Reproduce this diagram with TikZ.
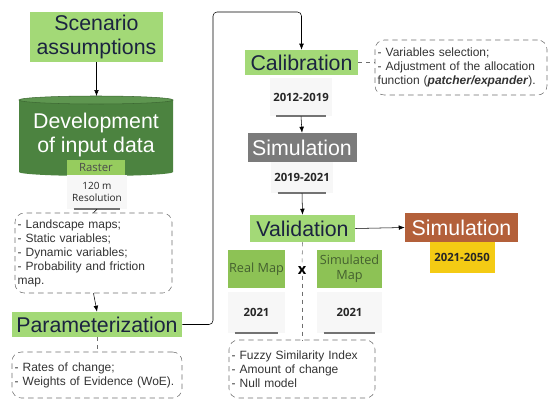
\documentclass[tikz,border=0pt]{standalone}
\usepackage{fontspec}
\setmainfont{Liberation Sans}
\newfontfamily\smallfont{Open Sans}
\usetikzlibrary{arrows.meta}

\definecolor{lightgreen}{HTML}{A3D977}
\definecolor{mapgreen}{HTML}{8DC255}
\definecolor{maptext}{HTML}{44602F}
\definecolor{rastergreen}{HTML}{96CC5E}
\definecolor{darkgreen}{HTML}{4C8340}
\definecolor{topgreen}{HTML}{5E9650}
\definecolor{navy}{HTML}{1B2340}
\definecolor{simgray}{HTML}{7B7B7B}
\definecolor{rust}{HTML}{B3603A}
\definecolor{gold}{HTML}{F4CB14}
\definecolor{notegray}{HTML}{6E6E6E}

\tikzset{
  stage/.style={font=\fontsize{16}{18}\selectfont, inner sep=1pt, align=center},
  greenstage/.style={stage, fill=lightgreen, text=navy},
  notebox/.style={draw=notegray, dash pattern=on 4pt off 3pt, rounded corners=7pt, align=left,
    font=\fontsize{9}{10.5}\selectfont, text=black!80, inner xsep=2pt, inner ysep=3pt},
  datebox/.style={fill=gray!6, inner sep=0pt, align=center, text=black!85,
    font=\smallfont\bfseries\fontsize{8.5}{10}\selectfont,
    path picture={\draw[black!55, line width=1.6pt]
      ([xshift=5pt]path picture bounding box.south west) --
      ([xshift=-5pt]path picture bounding box.south east);}},
  mapbox/.style={fill=mapgreen, inner sep=0pt, align=center, text=maptext,
    font=\smallfont\fontsize{9.5}{11.5}\selectfont},
  arr/.style={-{Latex[length=4.5pt,width=3.5pt]}, thin},
  link/.style={dash pattern=on 3pt off 3pt, notegray, thin}
}

\begin{document}
\begin{tikzpicture}[x=0.75pt, y=-0.75pt]
  \useasboundingbox (0,0) rectangle (548,400);

  % Left column: scenario and input data
  \node[greenstage, minimum width=99.75pt, minimum height=37.5pt] (scen) at (96.5,37) {Scenario\\assumptions};

  \fill[darkgreen] (19,100) -- (19,172) arc[start angle=180, end angle=0, x radius=77, y radius=4] -- (173,100) -- cycle;
  \filldraw[fill=topgreen, draw=darkgreen!80!black] (96,100) ellipse[x radius=77, y radius=4];
  \coordinate (cyltop) at (96,96);
  \node[stage, text=white] (dev) at (96,135) {Development\\of input data};

  \node[fill=rastergreen, inner sep=0pt, minimum width=43.5pt, minimum height=11.25pt,
    font=\smallfont\fontsize{8.5}{9}\selectfont, text=black!70] (raster) at (96,167.5) {Raster};
  \node[datebox, font=\smallfont\fontsize{7.5}{9.5}\selectfont, minimum width=45pt, minimum height=25.5pt] (res) at (97,192) {120 m\\Resolution};

  \node[notebox, text width=113.75pt, minimum height=60pt] (innotes) at (93.5,253)
    {- Landscape maps;\\- Static variables;\\- Dynamic variables;\\- Probability and friction map.};

  \node[greenstage, minimum width=127.5pt, minimum height=18.75pt] (param) at (97,324.5) {Parameterization};
  \node[notebox, text width=123.5pt, minimum height=34.5pt] (parnotes) at (97,375)
    {- Rates of change;\\- Weights of Evidence (WoE).};

  % Right column: calibration, simulation, validation
  \node[greenstage, minimum width=84.75pt, minimum height=18.75pt] (calib) at (301.5,62.5) {Calibration};
  \node[notebox, text width=125pt, minimum height=41.25pt] (calnotes) at (461,67.5)
    {- Variables selection;\\- Adjustment of the allocation\\function (\textbf{\textit{patcher/expander}}).};
  \node[datebox, minimum width=47pt, minimum height=28.5pt] (date1) at (301,97) {2012-2019};

  \node[stage, fill=simgray, text=white, minimum width=81.75pt, minimum height=21.75pt] (gsim) at (302,147.5) {Simulation};
  \node[datebox, minimum width=46.5pt, minimum height=23.25pt] (date2) at (302,177.5) {2019-2021};

  \node[greenstage, minimum width=78.75pt, minimum height=20.25pt] (valid) at (302.5,228.5) {Validation};
  \node[stage, fill=rust, text=white, minimum width=84.75pt, minimum height=21.75pt] (fsim) at (461.5,227.5) {Simulation};
  \node[datebox, fill=gold, path picture={}, minimum width=48.75pt, minimum height=23.25pt] (date3) at (462,257.5) {2021-2050};

  \node[mapbox, minimum width=42.75pt, minimum height=28.5pt] (realmap) at (256.5,269) {Real Map};
  \node[mapbox, minimum width=48.75pt, minimum height=28.5pt] (simmap) at (349.5,269) {Simulated\\Map};
  \node[datebox, minimum width=42.75pt, minimum height=30.75pt] (rdate) at (256.5,312.5) {2021};
  \node[datebox, minimum width=48.75pt, minimum height=30.75pt] (sdate) at (349.5,312.5) {2021};
  \node[font=\smallfont\bfseries\fontsize{11}{11}\selectfont, fill=white, inner sep=1pt] (cross) at (302,270) {x};

  \node[notebox, text width=105.5pt, minimum height=43.5pt] (valnotes) at (302,369)
    {- Fuzzy Similarity Index\\- Amount of change\\- Null model};

  % Connectors
  \draw[arr] (scen.south) -- (scen.south |- cyltop);
  \draw[thin] (res.south) -- (innotes.north);
  \draw[arr] (innotes.south) -- (param.north);
  \draw[link] (param.south) -- (parnotes.north);

  \coordinate (bend) at (213,12);
  \draw[arr, rounded corners=3pt] (param.east) -| (bend) -| (calib.north);
  \draw[link] (calib.east) -- (calib.east -| calnotes.west);
  \draw[arr] (date1.south) -- (gsim.north);
  \draw[arr] (date2.south) -- (valid.north);
  \draw[arr] (valid.east) -- (fsim.west);
  \draw[link] (valid.south) -- (cross.north);
  \draw[link] (cross.south) -- (valnotes.north);
\end{tikzpicture}
\end{document}
